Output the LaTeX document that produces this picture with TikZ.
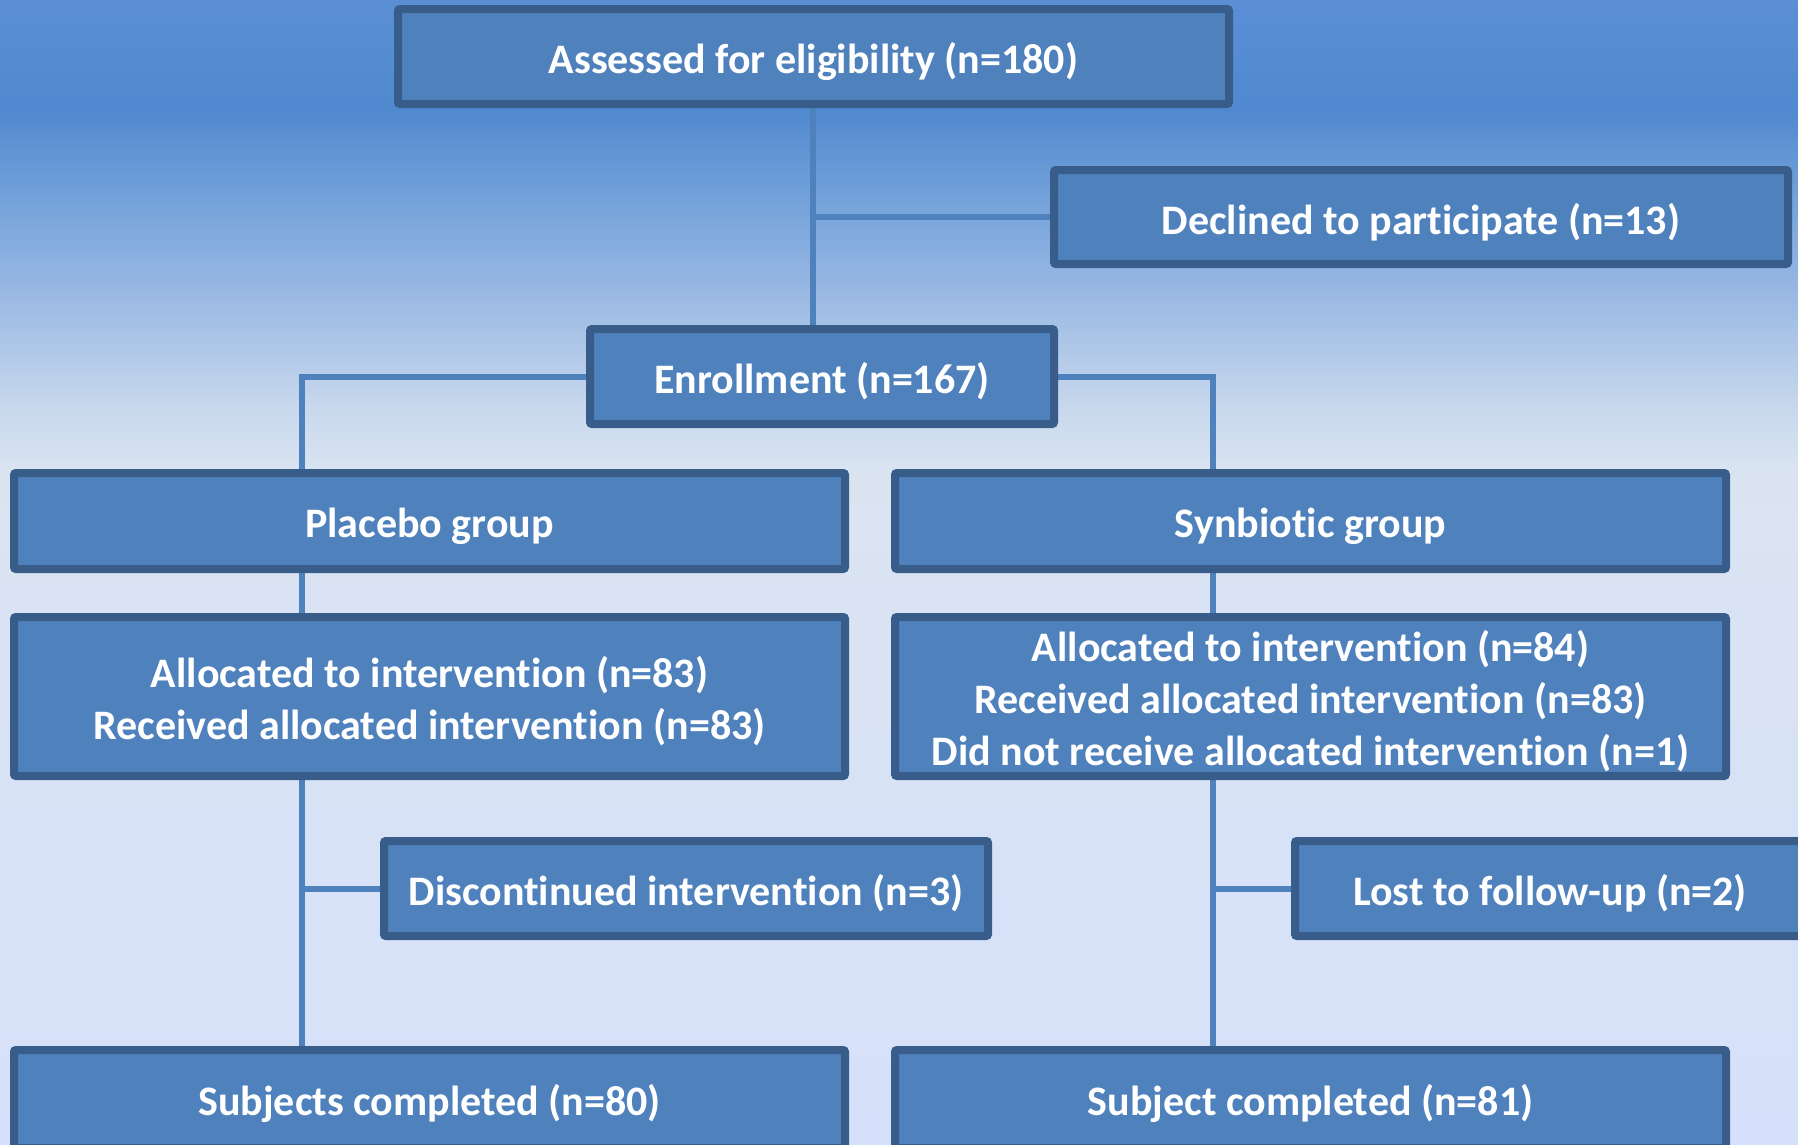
\documentclass[tikz,border=0pt]{standalone}
\usepackage{fontspec}
\setmainfont{Carlito}[Ligatures={TeX,NoCommon}]
\usetikzlibrary{backgrounds}
\definecolor{boxfill}{RGB}{79,129,189}
\definecolor{boxline}{RGB}{56,93,138}
\definecolor{conn}{RGB}{79,129,189}
\definecolor{g0}{RGB}{90,143,213}
\definecolor{g1}{RGB}{80,137,207}
\definecolor{g2}{RGB}{116,162,218}
\definecolor{g3}{RGB}{136,174,224}
\definecolor{g4}{RGB}{156,186,227}
\definecolor{g5}{RGB}{176,200,232}
\definecolor{g6}{RGB}{197,214,236}
\definecolor{g7}{RGB}{218,228,241}
\definecolor{g8}{RGB}{214,224,250}
\newcommand{\topstrut}{\rule{0pt}{41pt}}
\begin{document}
\begin{tikzpicture}[x=1pt,y=-1pt,
  box/.style={draw=boxline, fill=boxfill, line width=8pt, rounded corners=2pt,
    text=white, font=\fontsize{42}{52}\selectfont\bfseries, align=center, inner sep=0pt},
  link/.style={draw=conn, line width=6pt}]
\useasboundingbox (0,0) rectangle (1798,1144);
\begin{scope}[on background layer]
  \fill[top color=g0, bottom color=g1] (0,0) rectangle (1798,110);
  \fill[top color=g1, bottom color=g2] (0,109.5) rectangle (1798,200);
  \fill[top color=g2, bottom color=g3] (0,199.5) rectangle (1798,250);
  \fill[top color=g3, bottom color=g4] (0,249.5) rectangle (1798,300);
  \fill[top color=g4, bottom color=g5] (0,299.5) rectangle (1798,350);
  \fill[top color=g5, bottom color=g6] (0,349.5) rectangle (1798,400);
  \fill[top color=g6, bottom color=g7] (0,399.5) rectangle (1798,470);
  \fill[top color=g7, bottom color=g8] (0,469.5) rectangle (1798,1144);
\end{scope}
\clip (0,0) rectangle (1798,1144);

\node[box, minimum width=831pt, minimum height=95pt] (assess) at (813.5,56.5) {\topstrut Assessed for eligibility (n=180)};
\node[box, minimum width=734pt, minimum height=94pt] (declined) at (1421,217) {\topstrut Declined to participate (n=13)};
\node[box, minimum width=464pt, minimum height=95pt] (enroll) at (822,376.5) {\topstrut Enrollment (n=167)};
\node[box, minimum width=831pt, minimum height=96pt] (placebo) at (429.5,521) {\topstrut Placebo group};
\node[box, minimum width=831pt, minimum height=96pt] (synb) at (1310.5,521) {\topstrut Synbiotic group};
\node[box, minimum width=831pt, minimum height=159pt] (allocL) at (429.5,696.5) {\topstrut Allocated to intervention (n=83)\\Received allocated intervention (n=83)};
\node[box, minimum width=831pt, minimum height=159pt] (allocR) at (1310.5,696.5) {\topstrut Allocated to intervention (n=84)\\Received allocated intervention (n=83)\\Did not receive allocated intervention (n=1)};
\node[box, minimum width=604pt, minimum height=95pt] (discont) at (686,888.5) {\topstrut Discontinued intervention (n=3)};
\node[box, minimum width=510pt, minimum height=95pt] (lost) at (1550,888.5) {\topstrut Lost to follow-up (n=2)};
\node[box, minimum width=831pt, minimum height=98pt] (doneL) at (429.5,1099) {\topstrut Subjects completed (n=80)};
\node[box, minimum width=831pt, minimum height=98pt] (doneR) at (1310.5,1099) {\topstrut Subject completed (n=81)};

\coordinate (mx) at (813,0);
\coordinate (lx) at (302,0);
\coordinate (rx) at (1213,0);

\begin{scope}[on background layer]
  \draw[link] (mx |- assess.south) -- (mx |- enroll.north);
  \draw[link] (mx |- declined.west) -- (declined.west);
  \draw[link] (enroll.west) -| (lx |- placebo.north);
  \draw[link] (enroll.east) -| (rx |- synb.north);
  \draw[link] (lx |- placebo.south) -- (lx |- allocL.north);
  \draw[link] (rx |- synb.south) -- (rx |- allocR.north);
  \draw[link] (lx |- allocL.south) -- (lx |- doneL.north);
  \draw[link] (rx |- allocR.south) -- (rx |- doneR.north);
  \draw[link] (lx |- discont.west) -- (discont.west);
  \draw[link] (rx |- lost.west) -- (lost.west);
\end{scope}
\end{tikzpicture}
\end{document}
